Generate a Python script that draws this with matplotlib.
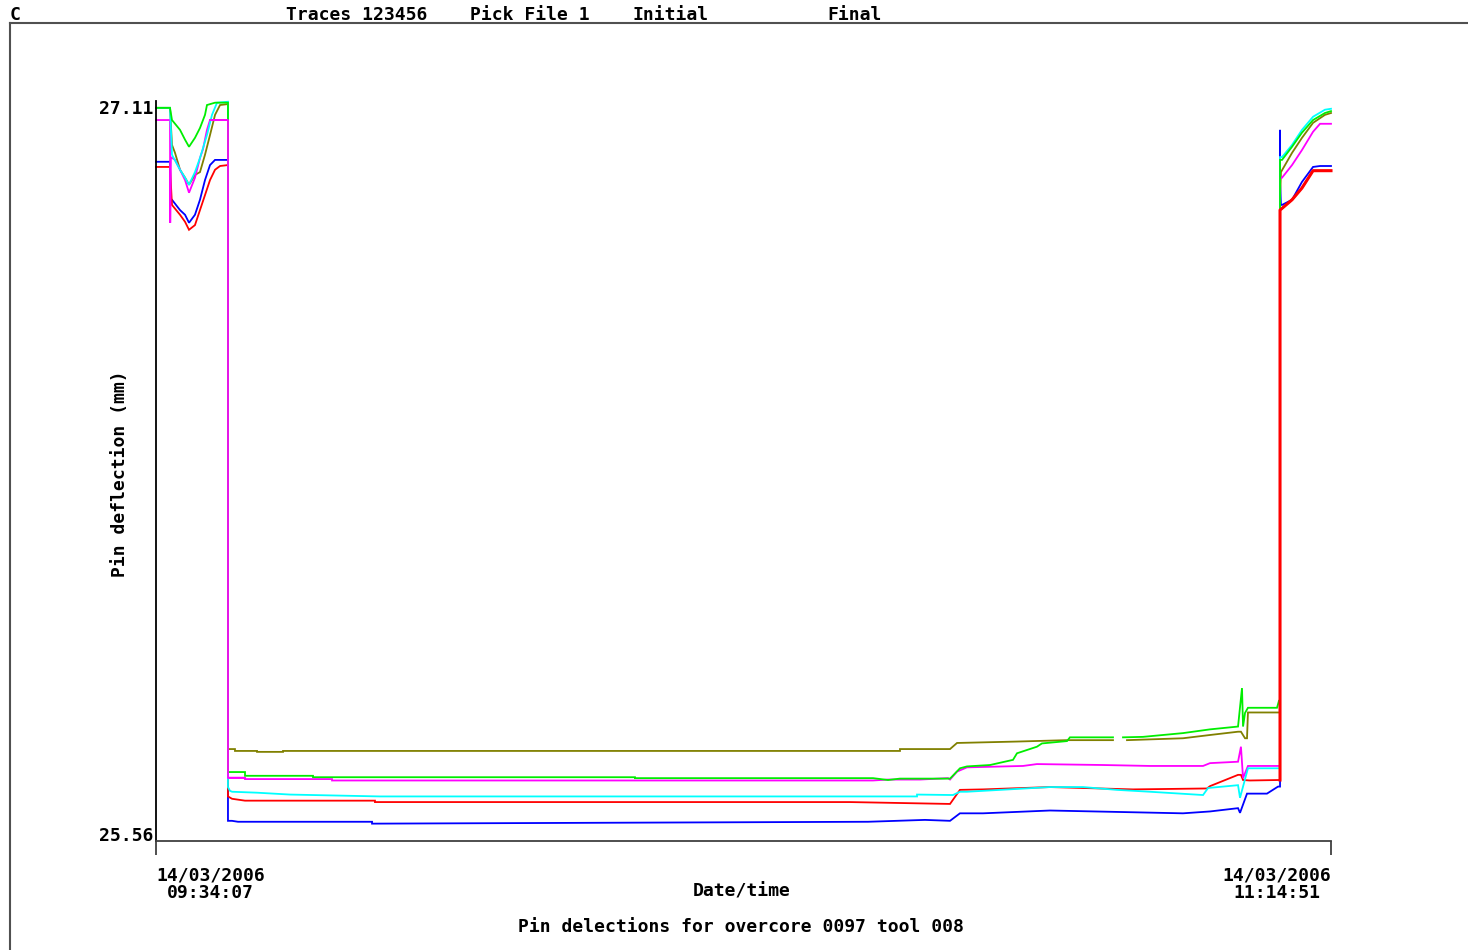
import numpy as np
import matplotlib
matplotlib.use("Agg")
import matplotlib.pyplot as plt
from matplotlib.lines import Line2D

nan = np.nan

# elapsed minutes since 14/03/2006 09:34:07, pin deflection in mm
t_end = 100.73

t_olive = [0, 1.20, 1.37, 1.63, 2.06, 2.49, 2.83, 3.34, 3.77, 4.20, 4.63, 5.06, 5.49, 6.17,
           6.17, 6.77, 6.77, 8.66, 8.66, 10.89, 10.89, 63.78, 63.78, 68.07, 68.67, 73.81, 78.10,
           82.04, nan, 83.24, 88.04, 90.36, 92.76, 93.01, 93.36, 93.53, 93.61, 96.19, 96.36,
           96.36, 96.44, 97.39, 98.24, 99.19, 100.21, 100.73]
v_olive = [27.108, 27.108, 27.029, 27.012, 26.976, 26.959, 26.944, 26.965, 26.971, 27.008, 27.050,
           27.093, 27.114, 27.116,
           25.741, 25.741, 25.737, 25.737, 25.735, 25.735, 25.737, 25.737, 25.741, 25.741, 25.754,
           25.757, 25.760, 25.760, nan, 25.760, 25.764, 25.771, 25.778, 25.778, 25.764, 25.764,
           25.819, 25.819, 25.819, 26.910, 26.971, 27.012, 27.044, 27.076, 27.093, 27.097]

t_green = [0, 1.20, 1.37, 2.06, 2.49, 2.83, 3.34, 3.77, 4.20, 4.37, 5.06, 6.17,
           6.17, 7.63, 7.63, 13.46, 13.46, 41.06, 41.06, 61.47, 62.75, 63.78, 68.07, 68.92, 69.52,
           71.50, 73.47, 73.81, 75.52, 75.95, 78.10, 78.35, 82.04, nan, 82.90, 84.61, 88.04,
           90.36, 92.76, 93.10, 93.19, 93.36, 93.61, 96.10, 96.27, 96.36,
           96.36, 96.53, 97.39, 98.24, 99.19, 100.21, 100.73]
v_green = [27.108, 27.108, 27.082, 27.061, 27.040, 27.025, 27.044, 27.065, 27.093, 27.114,
           27.119, 27.119,
           25.692, 25.692, 25.684, 25.684, 25.681, 25.681, 25.679, 25.679, 25.675, 25.678, 25.678,
           25.700, 25.704, 25.707, 25.718, 25.732, 25.746, 25.753, 25.758, 25.766, 25.766, nan,
           25.766, 25.767, 25.775, 25.783, 25.789, 25.871, 25.789, 25.818, 25.829, 25.829, 25.844,
           25.844, 26.997, 26.997, 27.025, 27.055, 27.082, 27.097, 27.101]

t_cyan = [0, 1.20, 1.37, 2.06, 2.49, 2.83, 3.34, 3.77, 4.37, 4.80, 5.23, 6.17,
          6.17, 6.34, 6.52, 8.66, 11.49, 19.20, 65.24, 65.24, 68.32, 68.92, 69.52, 76.64, 79.47,
          82.38, 85.21, 89.76, 90.19, 92.76, 92.93, 93.61, 96.19, 96.36,
          96.36, 96.53, 97.39, 98.24, 99.19, 100.21, 100.73]
v_cyan = [27.108, 27.108, 27.008, 26.976, 26.959, 26.944, 26.971, 27.001, 27.050, 27.093,
          27.119, 27.121,
          25.660, 25.652, 25.650, 25.648, 25.644, 25.640, 25.640, 25.644, 25.643, 25.650, 25.650,
          25.660, 25.660, 25.654, 25.650, 25.643, 25.658, 25.664, 25.637, 25.700, 25.700, 25.700,
          27.003, 27.003, 27.029, 27.061, 27.089, 27.104, 27.106]

t_blue = [0, 1.20, 1.24, 1.37, 2.06, 2.49, 2.83, 3.34, 3.77, 4.20, 4.63, 5.06, 6.17,
          6.17, 6.52, 7.03, 18.52, 18.52, 61.04, 65.92, 68.07, 68.92, 70.90, 76.64, 88.04, 90.36,
          92.76, 92.93, 93.53, 95.24, 96.19, 96.36,
          96.36, 96.36, 96.44, 96.53, 97.39, 98.24, 99.19, 99.79, 100.73]
v_blue = [26.993, 26.993, 26.912, 26.912, 26.890, 26.880, 26.863, 26.880, 26.912, 26.954,
          26.986, 26.997, 26.997,
          25.588, 25.588, 25.586, 25.586, 25.582, 25.586, 25.590, 25.588, 25.604, 25.604, 25.610,
          25.604, 25.608, 25.615, 25.605, 25.646, 25.646, 25.661, 25.661,
          27.061, 26.950, 26.901, 26.901, 26.912, 26.950, 26.982, 26.984, 26.984]

t_red = [0, 1.20, 1.37, 2.06, 2.49, 2.83, 3.34, 3.77, 4.20, 4.63, 5.06, 5.49, 6.17,
         6.17, 6.52, 7.63, 18.77, 18.77, 59.49, 63.78, 68.07, 68.92, 70.90, 76.64, 83.76, 90.10,
         90.36, 92.76, 93.01, 93.19, 93.78, 96.19, 96.36,
         96.36, 97.39, 98.24, 99.19, 100.73]
v_red = [26.982, 26.982, 26.901, 26.880, 26.865, 26.848, 26.858, 26.890, 26.922, 26.954,
         26.976, 26.984, 26.986,
         25.640, 25.635, 25.631, 25.631, 25.628, 25.628, 25.626, 25.624, 25.654, 25.655, 25.660,
         25.655, 25.657, 25.662, 25.686, 25.686, 25.675, 25.674, 25.675, 25.675,
         26.890, 26.912, 26.937, 26.974, 26.974]

t_magenta = [0, 1.20, 1.22, 1.28, 1.63, 2.06, 2.49, 2.83, 3.34, 3.77, 4.03, 4.37, 4.63, 6.17,
             6.17, 7.63, 7.63, 15.09, 15.09, 61.47, 62.75, 65.50, 67.90, 68.07, 68.67, 69.52,
             74.33, 75.52, 81.18, 85.21, 89.76, 90.36, 92.76, 93.01, 93.19, 93.61, 96.19, 96.36,
             96.36, 96.53, 97.39, 98.24, 99.19, 99.79, 100.73]
v_magenta = [27.082, 27.082, 26.863, 27.003, 26.997, 26.976, 26.954, 26.927, 26.959, 27.001,
             27.020, 27.061, 27.082, 27.082,
             25.680, 25.680, 25.677, 25.677, 25.674, 25.674, 25.676, 25.676, 25.679, 25.676,
             25.693, 25.702, 25.705, 25.709, 25.707, 25.705, 25.705, 25.711, 25.714, 25.746,
             25.679, 25.705, 25.705, 25.705,
             26.959, 26.959, 26.986, 27.018, 27.057, 27.074, 27.074]

traces = [
    (t_olive, v_olive, "#808000"),
    (t_blue, v_blue, "#0000ff"),
    (t_red, v_red, "#ff0000"),
    (t_magenta, v_magenta, "#ff00ff"),
    (t_cyan, v_cyan, "#00ffff"),
    (t_green, v_green, "#00ee00"),
]

fig = plt.figure(figsize=(14.68, 9.5), dpi=100)
W, H = 1468, 950

ax = fig.add_axes([156 / W, 1 - 841 / H, 1175 / W, 740.2 / H])

for t, v, c in traces:
    ax.plot(t, v, color=c, linewidth=1.3, solid_joinstyle="miter", clip_on=False)
# the magenta drop and the red jump are drawn above the others
ax.plot(t_magenta[12:16], v_magenta[12:16], color="#ff00ff", linewidth=1.3, zorder=4,
        clip_on=False)
ax.plot(t_red[-6:], v_red[-6:], color="#ff0000", linewidth=2.2, zorder=5, clip_on=False)

ax.set_xlim(0, t_end)
ax.set_ylim(25.545, 27.123)

for s in ["top", "right"]:
    ax.spines[s].set_visible(False)
ax.spines["left"].set_color("black")
ax.spines["left"].set_linewidth(1.3)
ax.spines["bottom"].set_color("#404040")
ax.spines["bottom"].set_linewidth(1.3)

mono = "DejaVu Sans Mono"
fs = 13
ax.set_yticks([25.56, 27.11])
ax.set_yticklabels(["25.56", "27.11"], fontfamily=mono, fontweight="bold", fontsize=fs)
ax.tick_params(axis="y", length=0, pad=2)

ax.set_xticks([0, t_end])
labels = ax.set_xticklabels(["14/03/2006\n09:34:07", "14/03/2006\n11:14:51"],
                            fontfamily=mono, fontweight="bold", fontsize=fs, linespacing=1.0)
labels[0].set_horizontalalignment("left")
labels[1].set_horizontalalignment("right")
for lab in labels:
    lab.set_multialignment("center")
ax.tick_params(axis="x", length=10, width=1.3, color="#404040", pad=8, direction="out")

# outer frame
fig.add_artist(Line2D([10 / W, 1], [1 - 23 / H, 1 - 23 / H], color="#505050", linewidth=1.5))
fig.add_artist(Line2D([10 / W, 10 / W], [0, 1 - 23 / H], color="#505050", linewidth=1.5))

# header
header = [("C", 10), ("Traces 123456", 286), ("Pick File 1", 470), ("Initial", 632), ("Final", 827)]
for txt, x in header:
    fig.text(x / W, 1 - 15 / H, txt, fontfamily=mono, fontweight="bold", fontsize=fs,
             ha="left", va="center")

fig.text(120 / W, 1 - 474 / H, "Pin deflection (mm)", rotation=90, fontfamily=mono,
         fontweight="bold", fontsize=fs, ha="center", va="center")
fig.text(742 / W, 1 - 892 / H, "Date/time", fontfamily=mono, fontweight="bold",
         fontsize=fs, ha="center", va="center")
fig.text(741 / W, 1 - 927 / H, "Pin delections for overcore 0097 tool 008", fontfamily=mono,
         fontweight="bold", fontsize=fs, ha="center", va="center")

fig.savefig("out.png", dpi=100)
